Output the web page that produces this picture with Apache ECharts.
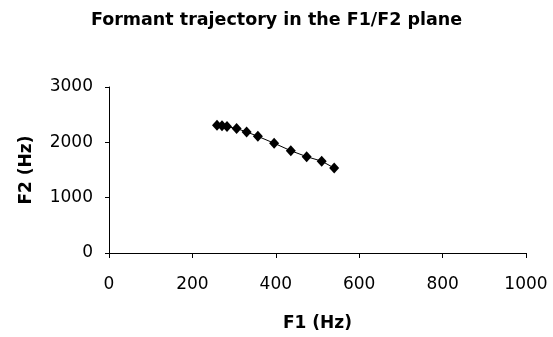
<!DOCTYPE html>
<html>
<head>
<meta charset="utf-8">
<script src="https://cdn.jsdelivr.net/npm/echarts@6/dist/echarts.min.js"></script>
<style>
  html, body { margin: 0; padding: 0; background: #fff; }
  #chart { width: 553px; height: 337px; }
</style>
</head>
<body>
<div id="chart"></div>
<script>
// Formant trajectory: first formant (F1) against second formant (F2), in Hz
const f1Values = [259, 271, 283, 306, 330, 357, 396, 436, 474, 510, 540];
const f2Values = [2307, 2298, 2285, 2249, 2189, 2108, 1984, 1848, 1741, 1660, 1536];

const xTicks = [0, 200, 400, 600, 800, 1000];
const yTicks = [0, 1000, 2000, 3000];

const points = f1Values.map((f1, i) => [f1, f2Values[i]]);

const labelFont = 'DejaVu Sans';
const plainNumber = v => String(v);

const chart = echarts.init(document.getElementById('chart'), null, { renderer: 'canvas' });
chart.setOption({
  animation: false,
  backgroundColor: '#ffffff',
  title: {
    text: 'Formant trajectory in the F1/F2 plane',
    left: 'center',
    top: 6,
    textStyle: { fontFamily: labelFont, fontWeight: 'bold', fontSize: 17.5, color: '#000' }
  },
  grid: { left: 109, right: 27, top: 87, bottom: 84 },
  xAxis: {
    type: 'value',
    min: xTicks[0],
    max: xTicks[xTicks.length - 1],
    interval: xTicks[1] - xTicks[0],
    name: 'F1 (Hz)',
    nameLocation: 'middle',
    nameGap: 62,
    nameTextStyle: { fontFamily: labelFont, fontWeight: 'bold', fontSize: 17, color: '#000' },
    axisLine: { show: true, onZero: false, lineStyle: { color: '#000', width: 1 } },
    axisTick: { show: true, inside: false, length: 5, lineStyle: { color: '#000' } },
    axisLabel: { fontFamily: labelFont, fontSize: 17, color: '#000', margin: 23, formatter: plainNumber },
    splitLine: { show: false }
  },
  yAxis: {
    type: 'value',
    min: yTicks[0],
    max: yTicks[yTicks.length - 1],
    interval: yTicks[1] - yTicks[0],
    name: 'F2 (Hz)',
    nameLocation: 'middle',
    nameGap: 74,
    nameTextStyle: { fontFamily: labelFont, fontWeight: 'bold', fontSize: 17, color: '#000' },
    axisLine: { show: true, onZero: false, lineStyle: { color: '#000', width: 1 } },
    axisTick: { show: true, inside: false, length: 4, lineStyle: { color: '#000' } },
    axisLabel: { fontFamily: labelFont, fontSize: 17, color: '#000', margin: 16, formatter: plainNumber },
    splitLine: { show: false }
  },
  series: [{
    type: 'line',
    data: points,
    symbol: 'diamond',
    symbolSize: [10, 11],
    showSymbol: true,
    itemStyle: { color: '#000' },
    lineStyle: { color: '#000', width: 1 }
  }]
});
</script>
</body>
</html>
